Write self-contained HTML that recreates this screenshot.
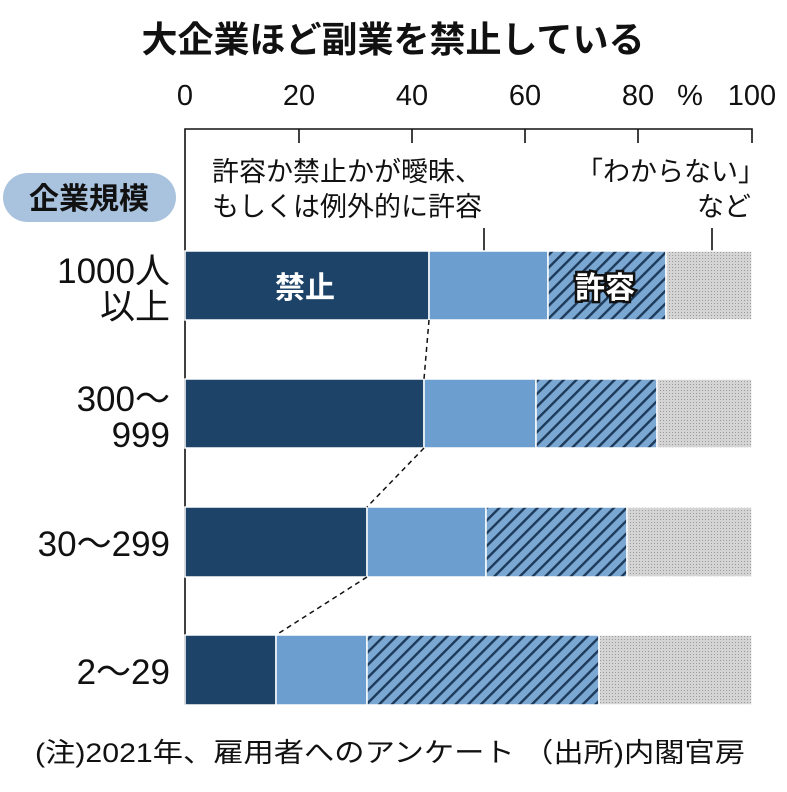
<!DOCTYPE html>
<html><head><meta charset="utf-8"><style>
body{margin:0;background:#fff}
svg text{font-family:"Liberation Sans","Noto Sans CJK JP",sans-serif}
</style></head><body>
<svg width="787" height="787" viewBox="0 0 787 787" xmlns="http://www.w3.org/2000/svg">
<defs>
<pattern id="h" width="9" height="9" patternUnits="userSpaceOnUse" patternTransform="rotate(45)">
<rect width="9" height="9" fill="#7aa8d3"/><rect width="2.4" height="9" fill="#1d3a5a"/>
</pattern>
<pattern id="g" width="3" height="3" patternUnits="userSpaceOnUse">
<rect width="3" height="3" fill="#d4d4d4"/><rect width="1" height="1" fill="#9a9a9a"/>
</pattern>
</defs>
<text x="393" y="52" font-size="36" font-weight="bold" text-anchor="middle" fill="#111">大企業ほど副業を禁止している</text>
<g font-size="29" fill="#111" text-anchor="middle">
<text x="185" y="105">0</text><text x="299" y="105">20</text><text x="412" y="105">40</text><text x="525" y="105">60</text><text x="638" y="105">80</text><text x="690" y="105">%</text><text x="752" y="105">100</text>
</g>
<g stroke="#111" stroke-width="1.6" fill="none">
<path d="M185,705 V129 H752 V143 M299,129 V143 M412,129 V143 M525,129 V143 M638,129 V143"/>
<path d="M484,228 V251 M712,228 V251"/>
</g>
<g font-size="27" fill="#111">
<text x="212" y="181">許容か禁止かが曖昧、</text>
<text x="212" y="216">もしくは例外的に許容</text>
<text x="576" y="181">「わからない」</text>
<text x="697" y="216">など</text>
</g>
<rect x="3" y="173" width="173" height="49" rx="24.5" fill="#a9c3de"/>
<text x="89" y="209" font-size="30" font-weight="bold" text-anchor="middle" fill="#111">企業規模</text>
<g font-size="35" fill="#111" text-anchor="end">
<text x="170" y="283">1000人</text><text x="170" y="319">以上</text>
<text x="170" y="411">300～</text><text x="170" y="447">999</text>
<text x="170" y="556">30～299</text>
<text x="170" y="684">2～29</text>
</g>
<g stroke="#fff" stroke-width="1.5">
<rect x="185" y="251" width="244" height="69" fill="#1d4468"/>
<rect x="429" y="251" width="119" height="69" fill="#6c9fd0"/>
<rect x="548" y="251" width="118" height="69" fill="url(#h)"/>
<rect x="666" y="251" width="86" height="69" fill="url(#g)"/>
<rect x="185" y="379" width="239" height="69" fill="#1d4468"/>
<rect x="424" y="379" width="112" height="69" fill="#6c9fd0"/>
<rect x="536" y="379" width="121" height="69" fill="url(#h)"/>
<rect x="657" y="379" width="95" height="69" fill="url(#g)"/>
<rect x="185" y="507" width="182" height="70" fill="#1d4468"/>
<rect x="367" y="507" width="119" height="70" fill="#6c9fd0"/>
<rect x="486" y="507" width="141" height="70" fill="url(#h)"/>
<rect x="627" y="507" width="125" height="70" fill="url(#g)"/>
<rect x="185" y="635" width="91" height="70" fill="#1d4468"/>
<rect x="276" y="635" width="91" height="70" fill="#6c9fd0"/>
<rect x="367" y="635" width="232" height="70" fill="url(#h)"/>
<rect x="599" y="635" width="153" height="70" fill="url(#g)"/>
</g>
<g stroke="#111" stroke-width="1.5" stroke-dasharray="5,4">
<path d="M429,320 L424,379 M424,448 L367,507 M367,577 L276,635"/>
</g>
<text x="305" y="298" font-size="30" font-weight="bold" text-anchor="middle" fill="#fff">禁止</text>
<text x="605" y="298" font-size="30" font-weight="bold" text-anchor="middle" fill="#fff" stroke="#111" stroke-width="5" paint-order="stroke">許容</text>
<text x="35" y="762" font-size="27" textLength="710" lengthAdjust="spacingAndGlyphs" fill="#111">(注)2021年、雇用者へのアンケート （出所)内閣官房</text>
</svg>
</body></html>
